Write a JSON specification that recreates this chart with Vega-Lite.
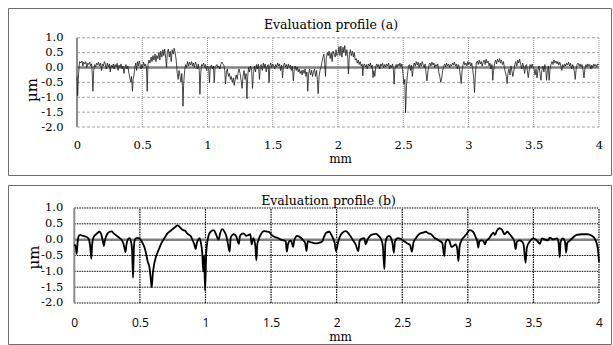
{
"$schema": "https://vega.github.io/schema/vega-lite/v6.json",
"padding": {"left": 7, "top": 7, "right": 2, "bottom": 3},
"background": "white",
"spacing": 8,
"config": {"view": {"stroke": "#6e6e6e", "strokeWidth": 1}, "font": "DejaVu Serif", "axis": {"labelOverlap": false, "labelSeparation": 0}},
"datasets": {
"gx": [{"v":0.5},{"v":1},{"v":1.5},{"v":2},{"v":2.5},{"v":3},{"v":3.5},{"v":4}],
"gy": [{"v":-2},{"v":-1.5},{"v":-1},{"v":-0.5},{"v":0.5},{"v":1}],
"a": [
{"x":0.000,"y":-0.30},{"x":0.005,"y":-0.95},{"x":0.012,"y":-0.20},{"x":0.020,"y":0.20},{"x":0.030,"y":0.15},{"x":0.038,"y":0.22},{"x":0.045,"y":0.05},{"x":0.052,"y":0.18},{"x":0.060,"y":0.12},{"x":0.068,"y":0.20},{"x":0.075,"y":0.00},{"x":0.083,"y":0.15},{"x":0.090,"y":0.10},{"x":0.098,"y":0.18},{"x":0.105,"y":0.05},{"x":0.112,"y":0.12},{"x":0.118,"y":-0.30},{"x":0.122,"y":-0.80},{"x":0.128,"y":-0.10},{"x":0.135,"y":0.10},{"x":0.143,"y":0.02},{"x":0.150,"y":0.15},{"x":0.158,"y":0.08},{"x":0.165,"y":0.18},{"x":0.172,"y":0.05},{"x":0.180,"y":0.15},{"x":0.188,"y":-0.10},{"x":0.195,"y":0.12},{"x":0.203,"y":0.05},{"x":0.210,"y":0.20},{"x":0.218,"y":0.10},{"x":0.225,"y":-0.05},{"x":0.232,"y":0.15},{"x":0.240,"y":0.02},{"x":0.248,"y":0.12},{"x":0.255,"y":-0.15},{"x":0.262,"y":0.08},{"x":0.270,"y":0.00},{"x":0.278,"y":0.12},{"x":0.285,"y":-0.05},{"x":0.292,"y":0.10},{"x":0.300,"y":0.02},{"x":0.308,"y":0.14},{"x":0.315,"y":-0.10},{"x":0.322,"y":0.08},{"x":0.330,"y":0.00},{"x":0.338,"y":0.12},{"x":0.345,"y":-0.05},{"x":0.352,"y":0.05},{"x":0.360,"y":-0.20},{"x":0.368,"y":0.02},{"x":0.375,"y":0.10},{"x":0.383,"y":-0.05},{"x":0.390,"y":0.05},{"x":0.398,"y":-0.20},{"x":0.405,"y":-0.35},{"x":0.412,"y":-0.50},{"x":0.418,"y":-0.30},{"x":0.425,"y":-0.80},{"x":0.430,"y":-0.40},{"x":0.437,"y":-0.25},{"x":0.443,"y":0.00},{"x":0.450,"y":0.15},{"x":0.457,"y":-0.10},{"x":0.463,"y":0.20},{"x":0.470,"y":0.05},{"x":0.477,"y":0.22},{"x":0.484,"y":0.08},{"x":0.490,"y":-0.05},{"x":0.497,"y":0.10},{"x":0.503,"y":0.00},{"x":0.510,"y":0.18},{"x":0.518,"y":0.05},{"x":0.525,"y":0.12},{"x":0.532,"y":0.00},{"x":0.538,"y":-0.80},{"x":0.544,"y":0.10},{"x":0.552,"y":0.25},{"x":0.560,"y":0.15},{"x":0.568,"y":0.35},{"x":0.575,"y":0.20},{"x":0.582,"y":0.40},{"x":0.590,"y":0.25},{"x":0.598,"y":0.45},{"x":0.605,"y":0.20},{"x":0.612,"y":0.40},{"x":0.620,"y":0.30},{"x":0.628,"y":0.50},{"x":0.635,"y":0.25},{"x":0.642,"y":0.55},{"x":0.650,"y":0.35},{"x":0.658,"y":0.60},{"x":0.665,"y":0.40},{"x":0.672,"y":0.62},{"x":0.680,"y":0.30},{"x":0.686,"y":0.00},{"x":0.692,"y":0.50},{"x":0.700,"y":0.62},{"x":0.708,"y":0.35},{"x":0.715,"y":0.55},{"x":0.722,"y":0.20},{"x":0.730,"y":0.60},{"x":0.738,"y":0.45},{"x":0.745,"y":0.65},{"x":0.752,"y":0.50},{"x":0.760,"y":0.25},{"x":0.768,"y":-0.20},{"x":0.775,"y":-0.40},{"x":0.782,"y":-0.10},{"x":0.790,"y":-0.30},{"x":0.797,"y":-0.50},{"x":0.803,"y":-0.20},{"x":0.808,"y":-0.60},{"x":0.812,"y":-1.30},{"x":0.818,"y":-0.50},{"x":0.825,"y":-0.10},{"x":0.832,"y":0.10},{"x":0.840,"y":0.00},{"x":0.848,"y":0.20},{"x":0.855,"y":0.05},{"x":0.862,"y":0.18},{"x":0.870,"y":0.08},{"x":0.878,"y":0.20},{"x":0.885,"y":0.05},{"x":0.892,"y":0.15},{"x":0.900,"y":0.00},{"x":0.908,"y":0.18},{"x":0.915,"y":0.10},{"x":0.922,"y":-0.05},{"x":0.930,"y":0.12},{"x":0.937,"y":-0.10},{"x":0.942,"y":-0.90},{"x":0.948,"y":-0.20},{"x":0.955,"y":0.10},{"x":0.962,"y":0.05},{"x":0.970,"y":0.15},{"x":0.978,"y":0.00},{"x":0.985,"y":0.10},{"x":0.993,"y":-0.10},{"x":1.000,"y":0.05},{"x":1.008,"y":0.00},{"x":1.015,"y":-0.50},{"x":1.022,"y":0.05},{"x":1.030,"y":0.08},{"x":1.038,"y":-0.05},{"x":1.045,"y":0.05},{"x":1.052,"y":-0.50},{"x":1.058,"y":0.00},{"x":1.065,"y":0.05},{"x":1.072,"y":0.10},{"x":1.080,"y":0.00},{"x":1.088,"y":0.05},{"x":1.095,"y":-0.05},{"x":1.102,"y":0.10},{"x":1.110,"y":0.18},{"x":1.118,"y":0.12},{"x":1.125,"y":0.08},{"x":1.132,"y":-0.10},{"x":1.138,"y":-0.55},{"x":1.145,"y":-0.15},{"x":1.152,"y":-0.05},{"x":1.160,"y":-0.30},{"x":1.168,"y":-0.20},{"x":1.175,"y":-0.40},{"x":1.182,"y":-0.30},{"x":1.190,"y":-0.50},{"x":1.198,"y":-0.35},{"x":1.205,"y":-0.60},{"x":1.212,"y":-0.40},{"x":1.220,"y":-0.25},{"x":1.228,"y":-0.40},{"x":1.235,"y":-0.15},{"x":1.242,"y":-0.05},{"x":1.250,"y":-0.20},{"x":1.258,"y":-0.45},{"x":1.265,"y":-0.70},{"x":1.272,"y":-0.30},{"x":1.280,"y":-0.10},{"x":1.288,"y":-0.40},{"x":1.295,"y":-0.20},{"x":1.302,"y":-1.05},{"x":1.308,"y":-0.30},{"x":1.315,"y":0.00},{"x":1.322,"y":-0.15},{"x":1.330,"y":0.05},{"x":1.338,"y":-0.10},{"x":1.345,"y":-0.70},{"x":1.352,"y":-0.20},{"x":1.360,"y":0.05},{"x":1.368,"y":-0.15},{"x":1.375,"y":0.10},{"x":1.382,"y":-0.05},{"x":1.390,"y":0.12},{"x":1.398,"y":-0.40},{"x":1.405,"y":0.05},{"x":1.412,"y":0.10},{"x":1.420,"y":-0.10},{"x":1.428,"y":0.15},{"x":1.435,"y":0.00},{"x":1.442,"y":0.12},{"x":1.450,"y":-0.15},{"x":1.458,"y":0.05},{"x":1.465,"y":0.10},{"x":1.472,"y":-0.50},{"x":1.478,"y":0.05},{"x":1.485,"y":0.15},{"x":1.492,"y":0.00},{"x":1.500,"y":0.12},{"x":1.508,"y":0.05},{"x":1.515,"y":-0.05},{"x":1.522,"y":0.10},{"x":1.530,"y":0.02},{"x":1.538,"y":0.15},{"x":1.545,"y":0.05},{"x":1.552,"y":0.12},{"x":1.560,"y":-0.10},{"x":1.568,"y":0.08},{"x":1.575,"y":-0.35},{"x":1.582,"y":0.05},{"x":1.590,"y":0.15},{"x":1.598,"y":0.02},{"x":1.605,"y":0.10},{"x":1.612,"y":-0.05},{"x":1.620,"y":0.12},{"x":1.628,"y":0.00},{"x":1.635,"y":0.08},{"x":1.642,"y":-0.10},{"x":1.650,"y":0.05},{"x":1.658,"y":-0.45},{"x":1.665,"y":-0.05},{"x":1.672,"y":0.05},{"x":1.680,"y":-0.10},{"x":1.688,"y":0.02},{"x":1.695,"y":-0.15},{"x":1.702,"y":-0.05},{"x":1.710,"y":-0.20},{"x":1.718,"y":-0.10},{"x":1.725,"y":-0.25},{"x":1.732,"y":-0.08},{"x":1.740,"y":-0.20},{"x":1.748,"y":-0.05},{"x":1.755,"y":-0.30},{"x":1.762,"y":-0.15},{"x":1.768,"y":-0.80},{"x":1.775,"y":-0.20},{"x":1.782,"y":-0.05},{"x":1.790,"y":-0.25},{"x":1.798,"y":-0.10},{"x":1.805,"y":-0.30},{"x":1.812,"y":-0.15},{"x":1.820,"y":-0.05},{"x":1.828,"y":-0.30},{"x":1.835,"y":-0.10},{"x":1.842,"y":-0.40},{"x":1.848,"y":-0.88},{"x":1.855,"y":-0.30},{"x":1.862,"y":-0.10},{"x":1.870,"y":0.00},{"x":1.878,"y":0.20},{"x":1.885,"y":0.35},{"x":1.892,"y":0.45},{"x":1.898,"y":0.15},{"x":1.904,"y":-0.30},{"x":1.910,"y":0.30},{"x":1.918,"y":0.50},{"x":1.925,"y":0.40},{"x":1.932,"y":0.55},{"x":1.940,"y":0.30},{"x":1.948,"y":0.50},{"x":1.955,"y":0.20},{"x":1.962,"y":0.55},{"x":1.970,"y":0.45},{"x":1.978,"y":0.35},{"x":1.985,"y":0.60},{"x":1.992,"y":0.40},{"x":2.000,"y":0.45},{"x":2.008,"y":0.70},{"x":2.015,"y":0.40},{"x":2.022,"y":0.72},{"x":2.030,"y":0.35},{"x":2.038,"y":0.68},{"x":2.045,"y":0.50},{"x":2.052,"y":0.74},{"x":2.060,"y":0.40},{"x":2.068,"y":0.60},{"x":2.075,"y":0.30},{"x":2.080,"y":-0.22},{"x":2.088,"y":0.45},{"x":2.095,"y":0.60},{"x":2.102,"y":0.40},{"x":2.110,"y":0.55},{"x":2.118,"y":0.35},{"x":2.125,"y":0.50},{"x":2.132,"y":0.25},{"x":2.140,"y":0.30},{"x":2.148,"y":0.15},{"x":2.155,"y":0.25},{"x":2.162,"y":0.10},{"x":2.170,"y":0.20},{"x":2.178,"y":0.05},{"x":2.185,"y":0.12},{"x":2.190,"y":-0.28},{"x":2.195,"y":0.05},{"x":2.202,"y":0.12},{"x":2.210,"y":0.02},{"x":2.218,"y":0.10},{"x":2.225,"y":-0.05},{"x":2.232,"y":0.12},{"x":2.240,"y":0.05},{"x":2.248,"y":0.15},{"x":2.255,"y":0.00},{"x":2.262,"y":0.08},{"x":2.268,"y":-0.34},{"x":2.275,"y":-0.10},{"x":2.282,"y":-0.30},{"x":2.290,"y":0.05},{"x":2.298,"y":0.12},{"x":2.305,"y":0.02},{"x":2.312,"y":0.10},{"x":2.320,"y":-0.05},{"x":2.328,"y":0.12},{"x":2.335,"y":0.05},{"x":2.342,"y":0.14},{"x":2.350,"y":0.00},{"x":2.358,"y":0.10},{"x":2.365,"y":0.02},{"x":2.372,"y":0.12},{"x":2.380,"y":0.05},{"x":2.388,"y":0.15},{"x":2.395,"y":-0.05},{"x":2.402,"y":0.08},{"x":2.410,"y":0.00},{"x":2.418,"y":0.12},{"x":2.425,"y":-0.10},{"x":2.430,"y":-0.56},{"x":2.436,"y":-0.05},{"x":2.445,"y":0.10},{"x":2.452,"y":0.00},{"x":2.460,"y":0.12},{"x":2.468,"y":0.05},{"x":2.475,"y":0.15},{"x":2.482,"y":0.02},{"x":2.490,"y":0.12},{"x":2.498,"y":-0.20},{"x":2.505,"y":-0.56},{"x":2.512,"y":-0.40},{"x":2.518,"y":-1.52},{"x":2.525,"y":-0.60},{"x":2.532,"y":-0.25},{"x":2.540,"y":0.05},{"x":2.548,"y":0.10},{"x":2.555,"y":-0.10},{"x":2.562,"y":0.08},{"x":2.570,"y":-0.30},{"x":2.578,"y":0.05},{"x":2.585,"y":0.15},{"x":2.592,"y":0.05},{"x":2.600,"y":0.20},{"x":2.608,"y":0.08},{"x":2.615,"y":0.18},{"x":2.622,"y":0.00},{"x":2.630,"y":0.15},{"x":2.638,"y":0.05},{"x":2.645,"y":0.20},{"x":2.652,"y":0.10},{"x":2.660,"y":0.00},{"x":2.668,"y":0.12},{"x":2.675,"y":-0.20},{"x":2.682,"y":-0.45},{"x":2.690,"y":-0.10},{"x":2.698,"y":0.10},{"x":2.705,"y":0.15},{"x":2.712,"y":0.05},{"x":2.720,"y":0.18},{"x":2.728,"y":0.08},{"x":2.735,"y":0.15},{"x":2.742,"y":0.00},{"x":2.750,"y":0.10},{"x":2.758,"y":0.05},{"x":2.765,"y":0.12},{"x":2.772,"y":-0.15},{"x":2.780,"y":-0.30},{"x":2.788,"y":-0.50},{"x":2.795,"y":-0.35},{"x":2.802,"y":-0.10},{"x":2.810,"y":0.05},{"x":2.818,"y":0.12},{"x":2.825,"y":0.02},{"x":2.832,"y":0.15},{"x":2.840,"y":0.05},{"x":2.848,"y":0.12},{"x":2.855,"y":0.00},{"x":2.862,"y":0.10},{"x":2.870,"y":0.05},{"x":2.878,"y":0.15},{"x":2.885,"y":0.08},{"x":2.892,"y":0.18},{"x":2.900,"y":0.05},{"x":2.908,"y":0.12},{"x":2.915,"y":-0.05},{"x":2.922,"y":0.10},{"x":2.930,"y":0.00},{"x":2.938,"y":-0.30},{"x":2.944,"y":-0.54},{"x":2.950,"y":-0.15},{"x":2.958,"y":0.10},{"x":2.965,"y":0.20},{"x":2.972,"y":0.08},{"x":2.980,"y":0.15},{"x":2.988,"y":0.05},{"x":2.995,"y":0.20},{"x":3.002,"y":0.10},{"x":3.010,"y":0.18},{"x":3.018,"y":0.05},{"x":3.025,"y":0.15},{"x":3.032,"y":-0.05},{"x":3.040,"y":-0.35},{"x":3.046,"y":-0.84},{"x":3.052,"y":-0.30},{"x":3.060,"y":0.15},{"x":3.068,"y":0.22},{"x":3.075,"y":0.10},{"x":3.082,"y":0.25},{"x":3.090,"y":0.12},{"x":3.098,"y":0.20},{"x":3.105,"y":0.05},{"x":3.112,"y":0.18},{"x":3.120,"y":0.25},{"x":3.128,"y":0.10},{"x":3.135,"y":0.28},{"x":3.142,"y":0.15},{"x":3.150,"y":0.22},{"x":3.158,"y":0.05},{"x":3.165,"y":0.15},{"x":3.172,"y":-0.05},{"x":3.180,"y":0.10},{"x":3.186,"y":-0.43},{"x":3.192,"y":-0.10},{"x":3.200,"y":0.15},{"x":3.208,"y":0.25},{"x":3.215,"y":0.12},{"x":3.222,"y":0.28},{"x":3.230,"y":0.18},{"x":3.238,"y":0.30},{"x":3.245,"y":0.15},{"x":3.252,"y":0.25},{"x":3.260,"y":0.10},{"x":3.268,"y":0.20},{"x":3.275,"y":0.00},{"x":3.282,"y":-0.15},{"x":3.290,"y":-0.30},{"x":3.296,"y":-0.54},{"x":3.302,"y":-0.20},{"x":3.310,"y":-0.05},{"x":3.318,"y":-0.25},{"x":3.325,"y":0.05},{"x":3.332,"y":-0.10},{"x":3.340,"y":-0.30},{"x":3.348,"y":-0.10},{"x":3.355,"y":0.10},{"x":3.362,"y":0.20},{"x":3.370,"y":0.05},{"x":3.378,"y":0.25},{"x":3.385,"y":0.15},{"x":3.392,"y":0.28},{"x":3.400,"y":0.10},{"x":3.408,"y":-0.05},{"x":3.415,"y":0.15},{"x":3.422,"y":0.05},{"x":3.430,"y":-0.20},{"x":3.438,"y":0.05},{"x":3.445,"y":0.10},{"x":3.452,"y":-0.15},{"x":3.458,"y":-0.34},{"x":3.465,"y":-0.10},{"x":3.472,"y":0.10},{"x":3.480,"y":0.00},{"x":3.488,"y":0.12},{"x":3.495,"y":0.02},{"x":3.502,"y":-0.05},{"x":3.510,"y":-0.25},{"x":3.518,"y":-0.05},{"x":3.525,"y":-0.35},{"x":3.532,"y":-0.10},{"x":3.540,"y":0.05},{"x":3.548,"y":-0.20},{"x":3.555,"y":-0.43},{"x":3.562,"y":-0.10},{"x":3.570,"y":0.05},{"x":3.578,"y":-0.15},{"x":3.585,"y":0.10},{"x":3.592,"y":-0.05},{"x":3.598,"y":-0.43},{"x":3.605,"y":-0.10},{"x":3.612,"y":0.05},{"x":3.618,"y":-0.43},{"x":3.625,"y":-0.05},{"x":3.632,"y":0.10},{"x":3.640,"y":0.20},{"x":3.648,"y":0.10},{"x":3.655,"y":0.25},{"x":3.662,"y":0.15},{"x":3.670,"y":0.22},{"x":3.678,"y":0.12},{"x":3.685,"y":0.20},{"x":3.692,"y":0.08},{"x":3.700,"y":0.18},{"x":3.708,"y":0.05},{"x":3.715,"y":-0.10},{"x":3.722,"y":0.10},{"x":3.730,"y":0.02},{"x":3.738,"y":0.12},{"x":3.745,"y":0.05},{"x":3.752,"y":0.15},{"x":3.760,"y":0.08},{"x":3.768,"y":0.18},{"x":3.775,"y":0.05},{"x":3.782,"y":0.14},{"x":3.790,"y":-0.05},{"x":3.798,"y":0.10},{"x":3.805,"y":0.00},{"x":3.812,"y":-0.15},{"x":3.818,"y":-0.40},{"x":3.825,"y":-0.05},{"x":3.832,"y":0.10},{"x":3.840,"y":0.15},{"x":3.848,"y":0.05},{"x":3.855,"y":0.12},{"x":3.862,"y":0.02},{"x":3.870,"y":0.10},{"x":3.878,"y":-0.10},{"x":3.885,"y":-0.35},{"x":3.892,"y":-0.05},{"x":3.900,"y":0.10},{"x":3.908,"y":0.02},{"x":3.915,"y":0.12},{"x":3.922,"y":0.05},{"x":3.930,"y":0.10},{"x":3.938,"y":-0.05},{"x":3.945,"y":0.08},{"x":3.952,"y":0.00},{"x":3.960,"y":0.12},{"x":3.968,"y":0.05},{"x":3.975,"y":0.10},{"x":3.982,"y":0.02},{"x":3.990,"y":0.12},{"x":4.000,"y":0.08}
],
"b": [
{"x":0.000,"y":-0.15},{"x":0.010,"y":-0.20},{"x":0.018,"y":-0.45},{"x":0.025,"y":-0.10},{"x":0.032,"y":0.10},{"x":0.045,"y":0.15},{"x":0.060,"y":0.13},{"x":0.075,"y":0.11},{"x":0.090,"y":0.09},{"x":0.105,"y":0.05},{"x":0.115,"y":-0.05},{"x":0.122,"y":-0.25},{"x":0.130,"y":-0.60},{"x":0.136,"y":-0.15},{"x":0.145,"y":0.05},{"x":0.160,"y":0.15},{"x":0.175,"y":0.20},{"x":0.190,"y":0.25},{"x":0.200,"y":0.22},{"x":0.210,"y":0.10},{"x":0.218,"y":-0.05},{"x":0.225,"y":-0.20},{"x":0.232,"y":-0.05},{"x":0.242,"y":0.10},{"x":0.255,"y":0.20},{"x":0.270,"y":0.25},{"x":0.285,"y":0.26},{"x":0.300,"y":0.20},{"x":0.315,"y":0.15},{"x":0.330,"y":0.10},{"x":0.345,"y":0.05},{"x":0.360,"y":0.00},{"x":0.372,"y":-0.10},{"x":0.382,"y":-0.25},{"x":0.390,"y":-0.40},{"x":0.398,"y":-0.15},{"x":0.408,"y":0.00},{"x":0.420,"y":0.05},{"x":0.432,"y":-0.05},{"x":0.440,"y":-0.30},{"x":0.448,"y":-1.20},{"x":0.455,"y":-0.20},{"x":0.462,"y":0.00},{"x":0.475,"y":0.05},{"x":0.490,"y":0.05},{"x":0.505,"y":0.00},{"x":0.520,"y":-0.10},{"x":0.535,"y":-0.25},{"x":0.548,"y":-0.45},{"x":0.560,"y":-0.70},{"x":0.572,"y":-0.85},{"x":0.582,"y":-1.20},{"x":0.590,"y":-1.50},{"x":0.598,"y":-1.10},{"x":0.610,"y":-0.75},{"x":0.622,"y":-0.55},{"x":0.635,"y":-0.40},{"x":0.650,"y":-0.25},{"x":0.665,"y":-0.10},{"x":0.680,"y":0.00},{"x":0.695,"y":0.10},{"x":0.710,"y":0.20},{"x":0.725,"y":0.25},{"x":0.740,"y":0.30},{"x":0.755,"y":0.35},{"x":0.770,"y":0.40},{"x":0.785,"y":0.45},{"x":0.800,"y":0.42},{"x":0.815,"y":0.35},{"x":0.830,"y":0.30},{"x":0.845,"y":0.28},{"x":0.860,"y":0.20},{"x":0.875,"y":0.15},{"x":0.890,"y":0.10},{"x":0.905,"y":-0.05},{"x":0.915,"y":-0.15},{"x":0.925,"y":-0.30},{"x":0.935,"y":-0.10},{"x":0.945,"y":0.00},{"x":0.955,"y":0.05},{"x":0.965,"y":-0.10},{"x":0.975,"y":-0.40},{"x":0.983,"y":-1.00},{"x":0.990,"y":-0.50},{"x":0.997,"y":-1.60},{"x":1.006,"y":-0.40},{"x":1.013,"y":-0.10},{"x":1.025,"y":0.15},{"x":1.040,"y":0.25},{"x":1.064,"y":0.30},{"x":1.080,"y":0.17},{"x":1.100,"y":0.00},{"x":1.112,"y":0.20},{"x":1.128,"y":0.33},{"x":1.145,"y":0.25},{"x":1.160,"y":0.10},{"x":1.170,"y":-0.10},{"x":1.184,"y":-0.38},{"x":1.192,"y":0.05},{"x":1.205,"y":0.15},{"x":1.217,"y":0.17},{"x":1.235,"y":0.10},{"x":1.255,"y":-0.13},{"x":1.262,"y":0.10},{"x":1.275,"y":0.18},{"x":1.290,"y":0.20},{"x":1.310,"y":0.12},{"x":1.330,"y":0.15},{"x":1.342,"y":0.17},{"x":1.352,"y":-0.15},{"x":1.365,"y":0.05},{"x":1.380,"y":-0.20},{"x":1.388,"y":-0.65},{"x":1.395,"y":-0.15},{"x":1.405,"y":0.00},{"x":1.420,"y":0.15},{"x":1.446,"y":0.27},{"x":1.465,"y":0.26},{"x":1.485,"y":0.24},{"x":1.500,"y":0.17},{"x":1.520,"y":0.10},{"x":1.550,"y":0.06},{"x":1.575,"y":0.00},{"x":1.600,"y":-0.03},{"x":1.612,"y":-0.05},{"x":1.620,"y":-0.38},{"x":1.630,"y":-0.13},{"x":1.645,"y":-0.03},{"x":1.655,"y":-0.05},{"x":1.668,"y":-0.23},{"x":1.678,"y":0.00},{"x":1.700,"y":0.12},{"x":1.727,"y":0.06},{"x":1.745,"y":-0.02},{"x":1.760,"y":-0.10},{"x":1.770,"y":-0.36},{"x":1.780,"y":-0.05},{"x":1.800,"y":-0.08},{"x":1.820,"y":-0.10},{"x":1.840,"y":-0.12},{"x":1.865,"y":-0.10},{"x":1.890,"y":-0.05},{"x":1.905,"y":0.10},{"x":1.920,"y":0.22},{"x":1.945,"y":0.25},{"x":1.960,"y":0.15},{"x":1.975,"y":0.02},{"x":1.985,"y":-0.10},{"x":1.995,"y":-0.36},{"x":2.010,"y":-0.10},{"x":2.025,"y":0.10},{"x":2.045,"y":0.22},{"x":2.070,"y":0.27},{"x":2.090,"y":0.20},{"x":2.110,"y":0.08},{"x":2.130,"y":-0.05},{"x":2.145,"y":-0.15},{"x":2.165,"y":-0.36},{"x":2.175,"y":-0.05},{"x":2.190,"y":0.03},{"x":2.210,"y":0.05},{"x":2.222,"y":-0.15},{"x":2.235,"y":0.00},{"x":2.250,"y":0.10},{"x":2.275,"y":0.17},{"x":2.300,"y":0.18},{"x":2.320,"y":0.12},{"x":2.340,"y":0.00},{"x":2.352,"y":-0.20},{"x":2.364,"y":-0.94},{"x":2.372,"y":-0.10},{"x":2.385,"y":0.08},{"x":2.400,"y":0.12},{"x":2.415,"y":0.05},{"x":2.425,"y":-0.10},{"x":2.436,"y":-0.41},{"x":2.445,"y":-0.05},{"x":2.465,"y":0.05},{"x":2.490,"y":0.02},{"x":2.515,"y":-0.05},{"x":2.540,"y":-0.12},{"x":2.560,"y":-0.18},{"x":2.574,"y":-0.38},{"x":2.585,"y":-0.10},{"x":2.605,"y":0.05},{"x":2.630,"y":0.18},{"x":2.657,"y":0.22},{"x":2.680,"y":0.25},{"x":2.700,"y":0.20},{"x":2.720,"y":0.17},{"x":2.745,"y":0.06},{"x":2.770,"y":0.00},{"x":2.790,"y":-0.05},{"x":2.805,"y":-0.10},{"x":2.820,"y":-0.52},{"x":2.830,"y":-0.10},{"x":2.845,"y":0.00},{"x":2.860,"y":-0.05},{"x":2.875,"y":-0.23},{"x":2.890,"y":-0.20},{"x":2.905,"y":-0.15},{"x":2.918,"y":-0.25},{"x":2.928,"y":-0.68},{"x":2.938,"y":-0.20},{"x":2.955,"y":0.00},{"x":2.975,"y":0.10},{"x":2.990,"y":0.18},{"x":3.015,"y":0.30},{"x":3.040,"y":0.25},{"x":3.060,"y":0.08},{"x":3.072,"y":-0.05},{"x":3.080,"y":-0.25},{"x":3.088,"y":-0.05},{"x":3.105,"y":-0.02},{"x":3.120,"y":-0.05},{"x":3.130,"y":-0.15},{"x":3.140,"y":-0.05},{"x":3.160,"y":0.03},{"x":3.180,"y":0.15},{"x":3.195,"y":0.22},{"x":3.206,"y":0.15},{"x":3.220,"y":0.27},{"x":3.240,"y":0.36},{"x":3.260,"y":0.32},{"x":3.280,"y":0.17},{"x":3.300,"y":0.25},{"x":3.320,"y":0.17},{"x":3.340,"y":0.06},{"x":3.355,"y":-0.05},{"x":3.364,"y":-0.30},{"x":3.375,"y":-0.06},{"x":3.395,"y":-0.02},{"x":3.410,"y":-0.05},{"x":3.425,"y":-0.15},{"x":3.440,"y":-0.73},{"x":3.450,"y":-0.25},{"x":3.475,"y":-0.04},{"x":3.500,"y":0.04},{"x":3.525,"y":-0.02},{"x":3.550,"y":-0.13},{"x":3.565,"y":0.04},{"x":3.590,"y":0.00},{"x":3.610,"y":-0.02},{"x":3.625,"y":0.06},{"x":3.650,"y":0.01},{"x":3.680,"y":0.04},{"x":3.692,"y":-0.10},{"x":3.700,"y":-0.55},{"x":3.708,"y":-0.06},{"x":3.725,"y":0.04},{"x":3.740,"y":-0.05},{"x":3.750,"y":-0.41},{"x":3.758,"y":-0.10},{"x":3.775,"y":-0.04},{"x":3.800,"y":0.06},{"x":3.830,"y":0.15},{"x":3.870,"y":0.17},{"x":3.910,"y":0.17},{"x":3.946,"y":0.12},{"x":3.970,"y":0.01},{"x":3.990,"y":-0.25},{"x":4.000,"y":-0.70}
]
},
"vconcat": [
{
"width": 603, "height": 167,
"layer": [
{"data": {"name": "gy"}, "mark": {"type": "rule", "stroke": "#a6a6a6", "strokeWidth": 1, "strokeDash": [3, 2]},
 "encoding": {
  "y": {"field": "v", "type": "quantitative", "scale": {"domain": [-3.612, 2.0], "nice": false, "zero": false},
   "axis": {"values": [-2, -1.5, -1, -0.5, 0, 0.5, 1], "tickCount": 30, "offset": -69, "domain": false, "ticks": false, "tickSize": 0, "grid": false, "labelPadding": 14, "labelOverlap": false, "labelSeparation": 0, "labelFont": "DejaVu Serif", "labelFontSize": 11.5, "labelColor": "#000",
    "labelExpr": "datum.value < 0 ? '-' + format(-datum.value, '.1f') : format(datum.value, '.1f')",
    "title": "µm", "titleFont": "DejaVu Serif", "titleFontSize": 15, "titleFontWeight": "normal", "titleColor": "#000", "titleX": -46, "titleY": 81.5, "titleAngle": -90, "titleAlign": "center", "titleBaseline": "middle"}},
  "x": {"datum": 0, "type": "quantitative", "scale": {"domain": [-0.5287, 4.092], "nice": false, "zero": false},
   "axis": {"values": [0, 0.5, 1, 1.5, 2, 2.5, 3, 3.5, 4], "tickCount": 30, "format": "~g", "offset": -48, "domain": false, "ticks": false, "tickSize": 0, "grid": false, "labelPadding": 12, "labelOverlap": false, "labelFlush": false, "labelFont": "DejaVu Serif", "labelFontSize": 11.5, "labelColor": "#000",
    "title": "mm", "titleFont": "DejaVu Serif", "titleFontSize": 12, "titleFontWeight": "normal", "titleColor": "#000", "titleX": 332, "titleY": 35, "titleAlign": "center", "titleBaseline": "alphabetic"}},
  "x2": {"datum": 4}}},
{"data": {"name": "gx"}, "mark": {"type": "rule", "stroke": "#8c8c8c", "strokeWidth": 1, "strokeDash": [1, 1]},
 "encoding": {"x": {"field": "v", "type": "quantitative"}, "y": {"datum": -2, "type": "quantitative"}, "y2": {"datum": 1}}},
{"data": {"values": [{}]}, "mark": {"type": "rule", "stroke": "#8c8c8c", "strokeWidth": 2},
 "encoding": {"x": {"datum": 0, "type": "quantitative"}, "y": {"datum": -2, "type": "quantitative"}, "y2": {"datum": 1}}},
{"data": {"values": [{}]}, "mark": {"type": "rule", "stroke": "#808080", "strokeWidth": 2.5},
 "encoding": {"y": {"datum": 0, "type": "quantitative"}, "x": {"datum": 0, "type": "quantitative"}, "x2": {"datum": 4}}},
{"data": {"values": [{}]}, "mark": {"type": "text", "font": "DejaVu Serif", "fontSize": 12.5, "color": "#000", "baseline": "alphabetic", "align": "center"},
 "encoding": {"x": {"datum": 1.946, "type": "quantitative"}, "y": {"datum": 1.294, "type": "quantitative"}, "text": {"value": "Evaluation profile (a)"}}},
{"data": {"name": "a"}, "mark": {"type": "line", "stroke": "#1a1a1a", "strokeWidth": 0.8},
 "encoding": {"x": {"field": "x", "type": "quantitative"}, "y": {"field": "y", "type": "quantitative"}}}
]
},
{
"width": 603, "height": 159,
"layer": [
{"data": {"name": "gy"}, "mark": {"type": "rule", "stroke": "#000", "strokeWidth": 1, "strokeDash": [1.5, 1]},
 "encoding": {
  "y": {"field": "v", "type": "quantitative", "scale": {"domain": [-3.295, 1.726], "nice": false, "zero": false},
   "axis": {"values": [-2, -1.5, -1, -0.5, 0, 0.5, 1], "tickCount": 30, "offset": -66.3, "domain": false, "ticks": false, "tickSize": 0, "grid": false, "labelPadding": 11.5, "labelOverlap": false, "labelSeparation": 0, "labelFont": "DejaVu Serif", "labelFontSize": 11.5, "labelColor": "#000",
    "labelExpr": "datum.value < 0 ? '-' + format(-datum.value, '.1f') : format(datum.value, '.1f')",
    "title": "µm", "titleFont": "DejaVu Serif", "titleFontSize": 15, "titleFontWeight": "normal", "titleColor": "#000", "titleX": -41, "titleY": 72, "titleAngle": -90, "titleAlign": "center", "titleBaseline": "middle"}},
  "x": {"datum": 0, "type": "quantitative", "scale": {"domain": [-0.5054, 4.0915], "nice": false, "zero": false},
   "axis": {"values": [0, 0.5, 1, 1.5, 2, 2.5, 3, 3.5, 4], "tickCount": 30, "format": "~g", "offset": -41, "domain": false, "ticks": false, "tickSize": 0, "grid": false, "labelPadding": 14, "labelOverlap": false, "labelFlush": false, "labelFont": "Open Sans", "labelFontSize": 12, "labelColor": "#000",
    "title": "mm", "titleFont": "DejaVu Serif", "titleFontSize": 12, "titleFontWeight": "normal", "titleColor": "#000", "titleX": 332, "titleY": 37, "titleAlign": "center", "titleBaseline": "alphabetic"}},
  "x2": {"datum": 4}}},
{"data": {"name": "gx"}, "mark": {"type": "rule", "stroke": "#000", "strokeWidth": 1.2, "strokeDash": [1.5, 1]},
 "encoding": {"x": {"field": "v", "type": "quantitative"}, "y": {"datum": -2, "type": "quantitative"}, "y2": {"datum": 1}}},
{"data": {"values": [{}]}, "mark": {"type": "rule", "stroke": "#8c8c8c", "strokeWidth": 2},
 "encoding": {"x": {"datum": 0, "type": "quantitative"}, "y": {"datum": -2, "type": "quantitative"}, "y2": {"datum": 1}}},
{"data": {"values": [{}]}, "mark": {"type": "rule", "stroke": "#808080", "strokeWidth": 2.5},
 "encoding": {"y": {"datum": 0, "type": "quantitative"}, "x": {"datum": 0, "type": "quantitative"}, "x2": {"datum": 4}}},
{"data": {"values": [{}]}, "mark": {"type": "text", "font": "DejaVu Serif", "fontSize": 12.5, "color": "#000", "baseline": "alphabetic", "align": "center"},
 "encoding": {"x": {"datum": 1.938, "type": "quantitative"}, "y": {"datum": 1.094, "type": "quantitative"}, "text": {"value": "Evaluation profile (b)"}}},
{"data": {"name": "b"}, "mark": {"type": "line", "stroke": "#000", "strokeWidth": 1.8, "interpolate": "monotone"},
 "encoding": {"x": {"field": "x", "type": "quantitative"}, "y": {"field": "y", "type": "quantitative"}}}
]
}
]
}
